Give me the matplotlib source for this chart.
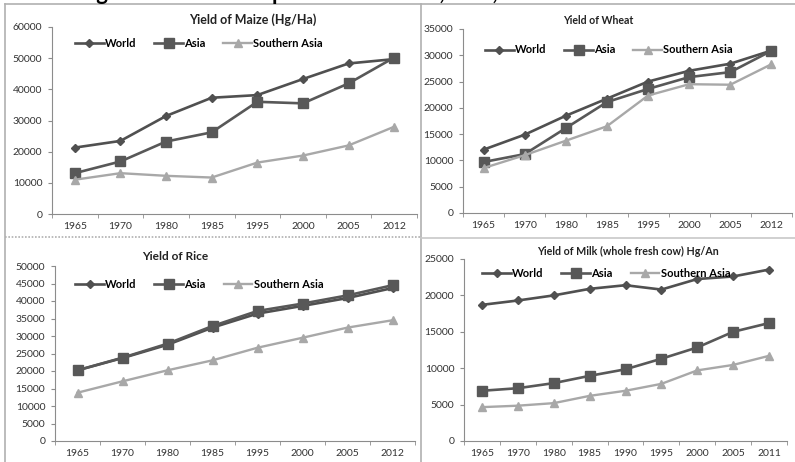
import matplotlib
matplotlib.use("Agg")
import matplotlib.pyplot as plt
from matplotlib.lines import Line2D
import numpy as np

plt.rcParams['font.family'] = ['Lato', 'DejaVu Sans']

# yields
years_a = ['1965', '1970', '1980', '1985', '1995', '2000', '2005', '2012']
years_milk = ['1965', '1970', '1980', '1985', '1990', '1995', '2000', '2005', '2011']

maize_world = [21300, 23450, 31450, 37300, 38150, 43300, 48300, 49700]
maize_asia = [13100, 16850, 23250, 26200, 36000, 35500, 41900, 50200]
maize_sasia = [11000, 13100, 12250, 11700, 16500, 18750, 22000, 28000]

wheat_world = [12050, 14900, 18500, 21750, 25000, 27050, 28400, 30900]
wheat_asia = [9700, 11200, 16150, 21100, 23600, 25850, 26800, 30850]
wheat_sasia = [8550, 11000, 13750, 16500, 22350, 24500, 24400, 28300]

rice_world = [20200, 23700, 27500, 32400, 36400, 38600, 40850, 43700]
rice_asia = [20200, 23800, 27800, 32850, 37150, 39250, 41600, 44500]
rice_sasia = [13800, 17050, 20200, 23050, 26650, 29500, 32400, 34500]

milk_world = [18700, 19300, 20000, 20900, 21400, 20800, 22250, 22600, 23550]
milk_asia = [6900, 7250, 7950, 8950, 9850, 11300, 12850, 15000, 16200]
milk_sasia = [4650, 4850, 5200, 6200, 6900, 7850, 9700, 10450, 11700]

W, H = 795, 462

def fx(px):
    return px / W

def fy(py):
    return 1 - py / H

def box(x0, x1, ytop, ybot):
    return [fx(x0), fy(ybot), fx(x1) - fx(x0), fy(ytop) - fy(ybot)]

fig = plt.figure(figsize=(7.95, 4.62), dpi=100)
fig.patch.set_facecolor('white')

panels = [
    # (box, years, world, asia, sasia, ymax, ystep, title, title xy, title size, legend anchor)
    (box(52, 417, 27, 214), years_a, maize_world, maize_asia, maize_sasia,
     60000, 10000, 'Yield of Maize (Hg/Ha)', (253, 20), 9, (0.063, 0.914)),
    (box(463, 792, 29, 213), years_a, wheat_world, wheat_asia, wheat_sasia,
     35000, 5000, 'Yield of Wheat', (598, 21), 7.6, (0.067, 0.886)),
    (box(55, 415, 266, 441), years_a, rice_world, rice_asia, rice_sasia,
     50000, 5000, 'Yield of Rice', (175, 256), 8.6, (0.056, 0.897)),
    (box(464, 787, 259, 441), years_milk, milk_world, milk_asia, milk_sasia,
     25000, 5000, 'Yield of Milk (whole fresh cow) Hg/An', (628, 251), 7.7, (0.056, 0.923)),
]

grey = '#8c8c8c'
for rect, yrs, w, a, s, ymax, ystep, title, txy, tsize, lanc in panels:
    ax = fig.add_axes(rect)
    x = np.arange(len(yrs))
    ax.plot(x, w, color='#505050', lw=1.9, marker='D', ms=4, label='World')
    ax.plot(x, a, color='#585858', lw=1.9, marker='s', ms=7, label='Asia')
    ax.plot(x, s, color='#a8a8a8', lw=1.7, marker='^', ms=5.5, label='Southern Asia')
    ax.set_xlim(-0.5, len(yrs) - 0.5)
    ax.set_ylim(0, ymax)
    ax.set_yticks(np.arange(0, ymax + 1, ystep))
    ax.set_xticks(x)
    ax.set_xticklabels(yrs)
    ax.set_xticks(np.arange(-0.5, len(yrs), 1), minor=True)
    ax.tick_params(axis='x', which='major', length=0, pad=6, labelsize=7.5, colors='#333333')
    ax.tick_params(axis='x', which='minor', length=3, direction='out', color=grey)
    ax.tick_params(axis='y', length=3, color=grey, labelsize=7.5, labelcolor='#333333', pad=4)
    for sp in ['top', 'right']:
        ax.spines[sp].set_visible(False)
    for sp in ['left', 'bottom']:
        ax.spines[sp].set_color(grey)
        ax.spines[sp].set_linewidth(0.8)
    ax.patch.set_alpha(0)
    ax.legend(loc='center left', bbox_to_anchor=lanc, ncol=3, frameon=False,
              prop={'weight': 'bold', 'size': 8}, handlelength=2.6,
              columnspacing=1.6, handletextpad=0.1, borderpad=0, borderaxespad=0)
    fig.text(fx(txy[0]), fy(txy[1]), title, ha='center', va='center',
             fontsize=tsize, fontweight='bold', color='#222222')

# panel frames
frame_col = '#b0b0b0'
fig.add_artist(Line2D([fx(5), 1], [fy(4), fy(4)], color=frame_col, lw=1.2))
fig.add_artist(Line2D([fx(5), fx(5)], [fy(4), 0], color=frame_col, lw=1.2))
fig.add_artist(Line2D([fx(421), fx(421)], [fy(4), 0], color=frame_col, lw=1.2))
fig.add_artist(Line2D([fx(5), fx(421)], [fy(237), fy(237)], color=frame_col, lw=1.2, ls=(0, (1, 1))))
fig.add_artist(Line2D([fx(421), 1], [fy(238), fy(238)], color='#c8c8c8', lw=1.2))

# page caption above, cut off by the crop in the reference
fig.text(fx(78), 1.0, 'Figure 1: Yield Comparison of World, Asia, Southern Asia',
         ha='left', va='baseline', fontsize=16, fontweight='bold', color='black')

fig.savefig('out.png', dpi=100)
